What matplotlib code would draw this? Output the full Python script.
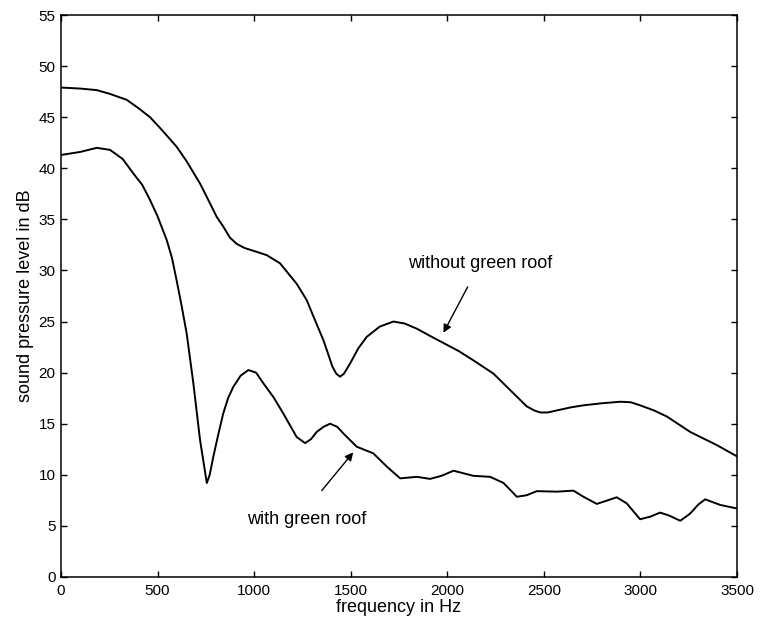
import matplotlib.pyplot as plt

plt.rcParams['font.family'] = ['Liberation Sans', 'DejaVu Sans']

# without green roof (upper curve)
freq_without = [0, 100, 185, 250, 340, 400, 461, 520, 599, 650, 720, 760, 806, 840, 875, 910, 950,
                1000, 1065, 1134, 1220, 1272, 1307, 1358, 1380, 1405, 1425, 1445, 1465, 1497,
                1540, 1583, 1650, 1721, 1780, 1842, 1910, 1980, 2060, 2135, 2239, 2325, 2411,
                2450, 2481, 2520, 2567, 2640, 2705, 2800, 2895, 2950, 2998, 3070, 3137, 3257,
                3396, 3500]
spl_without = [47.9, 47.8, 47.65, 47.3, 46.7, 45.9, 45.0, 43.8, 42.1, 40.7, 38.5, 37.0, 35.25, 34.3,
               33.2, 32.6, 32.2, 31.9, 31.5, 30.7, 28.7, 27.1, 25.5, 23.2, 22.0, 20.6, 19.9, 19.6,
               19.9, 20.9, 22.4, 23.5, 24.5, 25.0, 24.8, 24.3, 23.6, 22.9, 22.1, 21.2, 19.9,
               18.3, 16.7, 16.3, 16.1, 16.1, 16.3, 16.6, 16.8, 17.0, 17.15, 17.1, 16.8, 16.3,
               15.7, 14.2, 12.9, 11.8]

# with green roof (lower curve)
freq_with = [0, 100, 185, 254, 320, 374, 420, 461, 500, 547, 575, 599, 625, 651, 685, 720, 740,
             755, 770, 789, 815, 840, 865, 892, 930, 970, 1010, 1048, 1100, 1151, 1220, 1264,
             1295, 1324, 1360, 1393, 1430, 1462, 1531, 1617, 1687, 1756, 1842, 1911, 1970,
             2032, 2135, 2222, 2291, 2360, 2411, 2463, 2567, 2653, 2705, 2774, 2830, 2877,
             2929, 2998, 3050, 3102, 3150, 3206, 3257, 3300, 3335, 3413, 3500]
spl_with = [41.3, 41.6, 42.0, 41.8, 40.9, 39.5, 38.4, 36.9, 35.3, 33.0, 31.2, 29.0, 26.5, 23.8,
            19.0, 13.4, 11.0, 9.2, 10.0, 11.8, 14.0, 16.0, 17.5, 18.6, 19.7, 20.25, 20.0,
            18.95, 17.6, 16.0, 13.7, 13.1, 13.5, 14.2, 14.7, 15.0, 14.7, 14.05, 12.75, 12.1,
            10.8, 9.65, 9.8, 9.6, 9.9, 10.4, 9.9, 9.8, 9.2, 7.85, 8.0, 8.4, 8.35, 8.45, 7.85,
            7.15, 7.5, 7.8, 7.2, 5.65, 5.9, 6.3, 6.0, 5.5, 6.2, 7.1, 7.6, 7.05, 6.7]

fig = plt.figure(figsize=(7.66, 6.2), dpi=100)
ax = fig.add_axes([0.0796, 0.0694, 0.8826, 0.9064])

ax.plot(freq_without, spl_without, color='black', lw=1.4)
ax.plot(freq_with, spl_with, color='black', lw=1.4)

ax.set_xlim(0, 3500)
ax.set_ylim(0, 55)
ax.set_xticks(range(0, 3501, 500))
ax.set_yticks(range(0, 56, 5))
ax.tick_params(direction='in', top=True, right=True, length=4, width=1, labelsize=11)
ax.tick_params(axis='y', pad=4)
ax.tick_params(axis='x', pad=5)
for s in ax.spines.values():
    s.set_linewidth(1.1)

ax.set_xlabel('frequency in Hz', fontsize=13, labelpad=1)
ax.set_ylabel('sound pressure level in dB', fontsize=13, labelpad=3)

ax.annotate('without green roof', xy=(1980, 23.9), xytext=(2170, 30.7),
            fontsize=13, ha='center', va='center',
            arrowprops=dict(arrowstyle='-|>', color='black', lw=1, mutation_scale=12,
                            shrinkA=10, shrinkB=0))
ax.annotate('', xy=(1513, 12.2), xytext=(1350, 8.45),
            arrowprops=dict(arrowstyle='-|>', color='black', lw=1, mutation_scale=12,
                            shrinkA=0, shrinkB=0))
ax.text(1274, 5.6, 'with green roof', fontsize=13, ha='center', va='center')

fig.savefig('out.png', dpi=100)
